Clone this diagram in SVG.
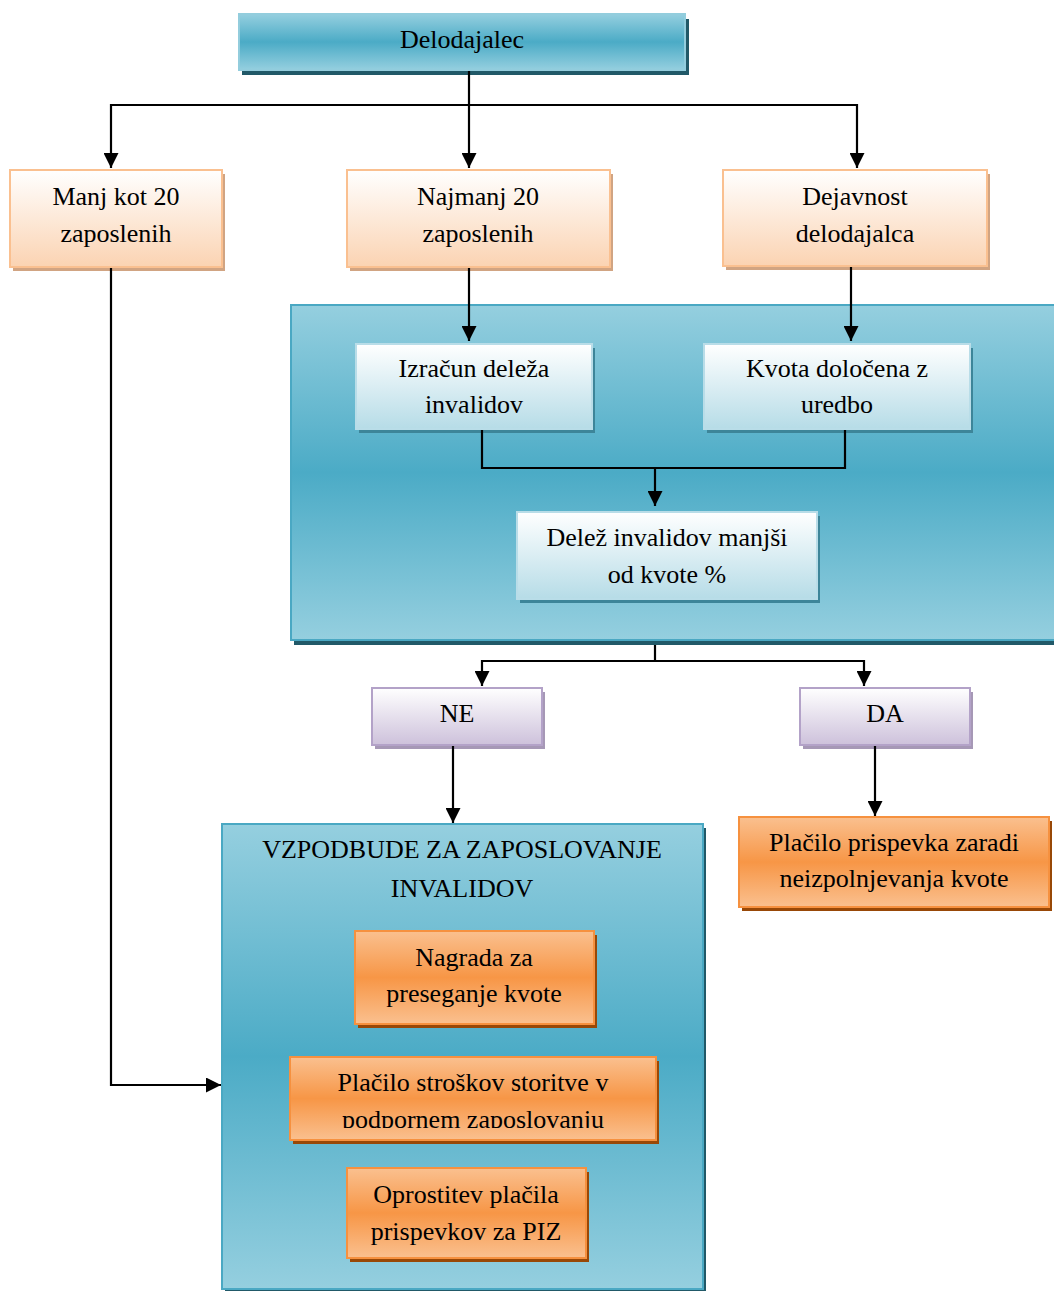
<svg xmlns="http://www.w3.org/2000/svg" width="1054" height="1291" viewBox="0 0 1054 1291">
<defs>
<linearGradient id="gBlue" x1="0" y1="0" x2="0" y2="1">
<stop offset="0" stop-color="#95cfdf"/><stop offset="0.5" stop-color="#4babc6"/><stop offset="1" stop-color="#95cfdf"/>
</linearGradient>
<linearGradient id="gPeach" x1="0" y1="0" x2="0" y2="1">
<stop offset="0" stop-color="#ffffff"/><stop offset="1" stop-color="#fbd3b2"/>
</linearGradient>
<linearGradient id="gLight" x1="0" y1="0" x2="0" y2="1">
<stop offset="0" stop-color="#ffffff"/><stop offset="1" stop-color="#b6dce7"/>
</linearGradient>
<linearGradient id="gPurple" x1="0" y1="0" x2="0" y2="1">
<stop offset="0" stop-color="#ffffff"/><stop offset="1" stop-color="#cdc1db"/>
</linearGradient>
<linearGradient id="gOrange" x1="0" y1="0" x2="0" y2="1">
<stop offset="0" stop-color="#fac08f"/><stop offset="0.5" stop-color="#f79646"/><stop offset="1" stop-color="#fac08f"/>
</linearGradient>
<marker id="arr" markerUnits="userSpaceOnUse" viewBox="0 0 15 15" markerWidth="15" markerHeight="15" refX="15" refY="7.5" orient="auto">
<path d="M0,0 L15,7.5 L0,15 z" fill="#000"/>
</marker>
<clipPath id="clipPodp"><rect x="280" y="1050" width="400" height="78"/></clipPath>
</defs>
<style>
text{font-family:"Liberation Serif","Times New Roman",serif;font-size:26px;fill:#000;text-anchor:middle}
.blue{fill:url(#gBlue);stroke:#4aa8c3;stroke-width:2}
.blueT{fill:url(#gBlue);stroke:#93cddd;stroke-width:2}
.shBlue{fill:#215968}
.peach{fill:url(#gPeach);stroke:#fac090;stroke-width:2}
.shPeach{fill:#d1a482}
.light{fill:url(#gLight);stroke:#b9dde8;stroke-width:2}
.shLight{fill:#3d8599}
.purple{fill:url(#gPurple);stroke:#b3a2c8;stroke-width:2}
.shPurple{fill:#a698b6}
.orange{fill:url(#gOrange);stroke:#f6913f;stroke-width:2}
.shOrange{fill:#984807}
.conn path{fill:none;stroke:#000;stroke-width:2.2}
</style>

<g id="container-top">
<rect class="shBlue" x="294" y="309" width="780" height="336"/>
<rect class="blue" x="291" y="305" width="780" height="335"/>
</g>

<g id="container-bottom">
<rect class="shBlue" x="225" y="828" width="481" height="470"/>
<rect class="blue" x="222" y="824" width="481" height="465"/>
<text x="462" y="858">VZPODBUDE ZA ZAPOSLOVANJE</text>
<text x="462" y="897">INVALIDOV</text>
</g>

<g id="delodajalec">
<rect class="shBlue" x="242" y="19" width="447" height="56"/>
<rect class="blueT" x="239" y="14" width="446" height="56"/>
<text x="462" y="48">Delodajalec</text>
</g>

<g id="manj">
<rect class="shPeach" x="13" y="174" width="212" height="97"/>
<rect class="peach" x="10" y="170" width="212" height="97"/>
<text x="116" y="205">Manj kot 20</text>
<text x="116" y="242">zaposlenih</text>
</g>

<g id="najmanj">
<rect class="shPeach" x="350" y="174" width="263" height="97"/>
<rect class="peach" x="347" y="170" width="263" height="97"/>
<text x="478" y="205">Najmanj 20</text>
<text x="478" y="242">zaposlenih</text>
</g>

<g id="dejavnost">
<rect class="shPeach" x="726" y="174" width="264" height="96"/>
<rect class="peach" x="723" y="170" width="264" height="96"/>
<text x="855" y="205">Dejavnost</text>
<text x="855" y="242">delodajalca</text>
</g>

<g id="izracun">
<rect class="shLight" x="359" y="348" width="236" height="85"/>
<rect class="light" x="356" y="344" width="236" height="85"/>
<text x="474" y="377">Izračun deleža</text>
<text x="474" y="413">invalidov</text>
</g>

<g id="kvota">
<rect class="shLight" x="707" y="348" width="266" height="85"/>
<rect class="light" x="704" y="344" width="266" height="85"/>
<text x="837" y="377">Kvota določena z</text>
<text x="837" y="413">uredbo</text>
</g>

<g id="delez">
<rect class="shLight" x="520" y="516" width="300" height="87"/>
<rect class="light" x="517" y="512" width="300" height="87"/>
<text x="667" y="546">Delež invalidov manjši</text>
<text x="667" y="583">od kvote %</text>
</g>

<g id="ne">
<rect class="shPurple" x="375" y="692" width="170" height="57"/>
<rect class="purple" x="372" y="688" width="170" height="57"/>
<text x="457" y="722">NE</text>
</g>

<g id="da">
<rect class="shPurple" x="803" y="692" width="170" height="57"/>
<rect class="purple" x="800" y="688" width="170" height="57"/>
<text x="885" y="722">DA</text>
</g>

<g id="placilo-prispevka">
<rect class="shOrange" x="742" y="821" width="310" height="90"/>
<rect class="orange" x="739" y="817" width="310" height="90"/>
<text x="894" y="851">Plačilo prispevka zaradi</text>
<text x="894" y="887">neizpolnjevanja kvote</text>
</g>

<g id="nagrada">
<rect class="shOrange" x="358" y="935" width="239" height="93"/>
<rect class="orange" x="355" y="931" width="239" height="93"/>
<text x="474" y="966">Nagrada za</text>
<text x="474" y="1002">preseganje kvote</text>
</g>

<g id="placilo-stroskov">
<rect class="shOrange" x="293" y="1061" width="366" height="83"/>
<rect class="orange" x="290" y="1057" width="366" height="83"/>
<text x="473" y="1091">Plačilo stroškov storitve v</text>
<text x="473" y="1128" clip-path="url(#clipPodp)">podpornem zaposlovanju</text>
</g>

<g id="oprostitev">
<rect class="shOrange" x="350" y="1172" width="239" height="90"/>
<rect class="orange" x="347" y="1168" width="239" height="90"/>
<text x="466" y="1203">Oprostitev plačila</text>
<text x="466" y="1240">prispevkov za PIZ</text>
</g>

<g id="connectors" class="conn">
<path d="M469,71 V168" marker-end="url(#arr)"/>
<path d="M469,105 H111 V168" marker-end="url(#arr)"/>
<path d="M469,105 H857 V168" marker-end="url(#arr)"/>
<path d="M111,268 V1085 H221" marker-end="url(#arr)"/>
<path d="M469,268 V341" marker-end="url(#arr)"/>
<path d="M851,267 V341" marker-end="url(#arr)"/>
<path d="M482,430 V468 H655 V506" marker-end="url(#arr)"/>
<path d="M845,430 V468 H655"/>
<path d="M655,645 V661 H482 V686" marker-end="url(#arr)"/>
<path d="M655,661 H864 V686" marker-end="url(#arr)"/>
<path d="M453,746 V823" marker-end="url(#arr)"/>
<path d="M875,746 V816" marker-end="url(#arr)"/>
</g>
</svg>
